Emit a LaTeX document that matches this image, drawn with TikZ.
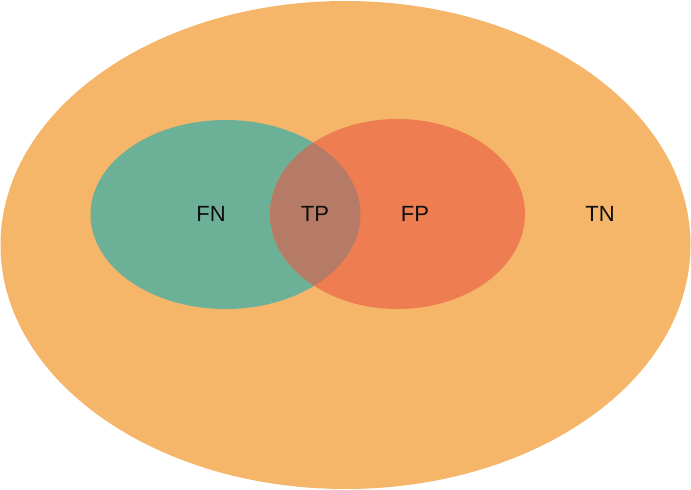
\documentclass[tikz,border=0pt]{standalone}
\usepackage{fontspec}
\setmainfont{Liberation Sans}
\definecolor{tncol}{HTML}{F5B66A}
\definecolor{fncol}{HTML}{6CB097}
\definecolor{fpcol}{HTML}{EE7D52}
\definecolor{tpcol}{HTML}{B67B66}
\tikzset{
    lbl/.style={
        inner sep=0pt,
        font=\fontsize{22}{22}\selectfont,
        text=black!95
    }
}
\begin{document}
\begin{tikzpicture}[x=1pt,y=-1pt]
		\useasboundingbox (0,0) rectangle (691,490);
		% sets
		\fill[tncol] (345.5,245) ellipse [x radius=345, y radius=244];
		\fill[fncol] (225.5,214.5) ellipse [x radius=135, y radius=94.5];
		\fill[fpcol] (397.5,214) ellipse [x radius=127.5, y radius=95];
		\begin{scope}
			\clip (225.5,214.5) ellipse [x radius=135, y radius=94.5];
			\fill[tpcol] (397.5,214) ellipse [x radius=127.5, y radius=95];
		\end{scope}
		% labels
		\path
			node[lbl] at (211,214) (fn) {FN}
			node[lbl] at (315,214) (tp) {TP}
			node[lbl] at (415,214) (fp) {FP}
			node[lbl] at (600,214) (tn) {TN}
			;
\end{tikzpicture}
\end{document}
